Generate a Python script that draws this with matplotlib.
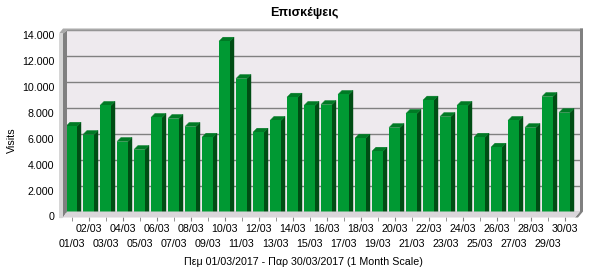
import matplotlib
matplotlib.use("Agg")
import matplotlib.pyplot as plt
from matplotlib.patches import Polygon

plt.rcParams['font.family'] = ['Liberation Sans', 'DejaVu Sans']

# data
days = list(range(1, 31))
day_labels = ["%02d/03" % d for d in days]
visits = [6980, 6340, 8590, 5800, 5180, 7660, 7580, 6960, 6130, 13560,
          10670, 6520, 7430, 9230, 8590, 8660, 9440, 6060, 5050, 6880,
          7970, 9000, 7730, 8590, 6130, 5360, 7430, 6880, 9280, 8040]
y_ticks = [0, 2000, 4000, 6000, 8000, 10000, 12000, 14000]
title = "Επισκέψεις"
x_title = "Πεμ 01/03/2017 - Παρ 30/03/2017 (1 Month Scale)"
y_title = "Visits"

W, H = 609, 274
fig = plt.figure(figsize=(W / 100, H / 100), dpi=100)
fig.patch.set_facecolor("white")


def box(x0, y_top, x1, y_bot):
    # pixel box (y from top) -> figure fraction rect
    return [x0 / W, 1 - y_bot / H, (x1 - x0) / W, (y_bot - y_top) / H]


def fp(pts):
    return [(x / W, 1 - y / H) for x, y in pts]


# geometry in pixels
depth = 5          # wall depth
bdepth = 4         # bar depth
fx0, fx1 = 62, 575         # front plane left/right
fy0, fy1 = 216.5, 35.5     # front plane 0 / 14000
pitch = 17
first_c = 71.5

# back wall
axb = fig.add_axes(box(fx0 + depth, fy1 - depth, fx1 + depth, fy0 - depth))
axb.set_facecolor("#EEEAEE")
axb.set_ylim(0, 14000)
axb.set_xlim(0, 1)
axb.set_yticks(y_ticks)
axb.yaxis.grid(True, color="#808080", lw=1)
axb.tick_params(left=False, bottom=False, labelleft=False, labelbottom=False)
for s in axb.spines.values():
    s.set_visible(False)

# walls around
gray_d = "#808080"
fig.patches.append(Polygon(fp([(fx0 - 3, fy1 - 2), (fx0 + 1, fy1 - 7), (fx1 + depth + 3, fy1 - 7),
                               (fx1 + depth + 3, fy1 - 5), (fx0 + depth, fy1 - 5), (fx0 + 1, fy1 - 2)]),
                           closed=True, transform=fig.transFigure, fc="#AAAAAA", ec="none"))
fig.patches.append(Polygon(fp([(fx0 - 3, fy1 - 2), (fx0 + 1, fy1 - 2), (fx0 + 1, fy0 + 1), (fx0 - 3, fy0 + 1)]),
                           closed=True, transform=fig.transFigure, fc="#D6D6D6", ec="none"))
fig.patches.append(Polygon(fp([(fx0 + 1, fy1 - 2), (fx0 + depth, fy1 - 5), (fx0 + depth, fy0 - depth),
                               (fx0 + 1, fy0 + 1)]),
                           closed=True, transform=fig.transFigure, fc=gray_d, ec="none"))
fig.patches.append(Polygon(fp([(fx1 + depth, fy1 - 7), (fx1 + depth + 3, fy1 - 7),
                               (fx1 + depth + 3, fy0 - depth), (fx1 + 3, fy0 + 1), (fx1, fy0 + 1),
                               (fx1 + depth, fy0 - depth)]),
                           closed=True, transform=fig.transFigure, fc=gray_d, ec="none"))
# floor
fig.patches.append(Polygon(fp([(fx0 + 1, fy0 + 1), (fx0 + depth, fy0 - depth), (fx1 + depth, fy0 - depth),
                               (fx1, fy0 + 1)]),
                           closed=True, transform=fig.transFigure, fc="#DAD6DA", ec="none"))

# front plane axes with bars
ax = fig.add_axes(box(fx0, fy1, fx1, fy0))
ax.patch.set_visible(False)
ax.set_ylim(0, 14000)
ax.set_xlim(1 - (first_c - fx0) / pitch, 1 + (fx1 - first_c) / pitch)
for s in ax.spines.values():
    s.set_visible(False)

bw = 11 / pitch
ddx = bdepth / pitch
ddy = bdepth * 14000 / (fy0 - fy1)

ax.bar(days, visits, width=bw, color="#009933", linewidth=0, zorder=3)
for d, v in zip(days, visits):
    l, r = d - bw / 2, d + bw / 2
    ax.add_patch(Polygon([(r, 0), (r + ddx, ddy), (r + ddx, v + ddy), (r, v)], closed=True,
                         fc="#004D14", ec="#004D14", lw=0.3, zorder=2))
    ax.add_patch(Polygon([(l, v), (r, v), (r + ddx, v + ddy), (l + ddx, v + ddy)], closed=True,
                         fc="#007A25", ec="#007A25", lw=0.3, zorder=2))

ax.set_yticks(y_ticks)
ax.set_yticklabels([f"{t:,}".replace(",", ".") for t in y_ticks])
even = [d for d in days if d % 2 == 0]
odd = [d for d in days if d % 2 == 1]
ax.set_xticks(even)
ax.set_xticklabels([day_labels[d - 1] for d in even])
ax.set_xticks(odd, minor=True)
ax.set_xticklabels([day_labels[d - 1] for d in odd], minor=True)
ax.tick_params(axis="x", which="both", length=3, color="#808080", labelsize=7.7, direction="out")
ax.tick_params(axis="x", which="major", pad=2.5)
ax.tick_params(axis="x", which="minor", pad=13)
ax.tick_params(axis="y", length=2, color="#808080", labelsize=7.7, pad=3.5)

fig.text(304 / W, 1 - 13 / H, title, ha="center", va="center", fontsize=9, fontweight="bold")
fig.text(303 / W, 1 - 262 / H, x_title, ha="center", va="center", fontsize=7.7)
fig.text(12 / W, 1 - 140 / H, y_title, ha="center", va="center", fontsize=7.7, rotation=90)

fig.savefig("out.png", dpi=100)
